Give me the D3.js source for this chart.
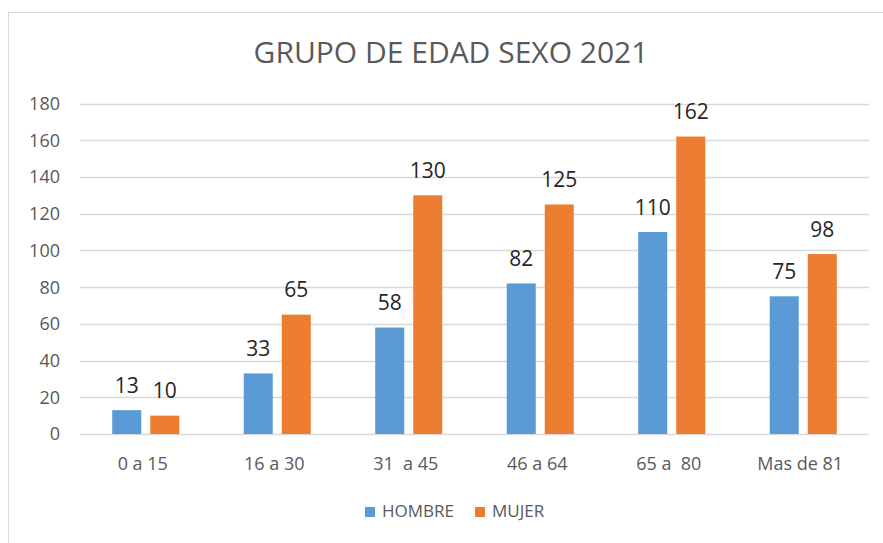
<!DOCTYPE html>
<html>
<head>
<meta charset="utf-8">
<script src="https://cdn.jsdelivr.net/npm/d3@7"></script>
<style>
  body { margin: 0; background: #fff; }
  text { font-family: "Open Sans", sans-serif; }
</style>
</head>
<body>
<script>
const categories = ['0 a 15', '16 a 30', '31  a 45', '46 a 64', '65 a  80', 'Mas de 81'];
const series = ['HOMBRE', 'MUJER'];
const hombre = [13, 33, 58, 82, 110, 75];
const mujer = [10, 65, 130, 125, 162, 98];
const yTicks = [0, 20, 40, 60, 80, 100, 120, 140, 160, 180];
const colors = ['#5B9BD5', '#ED7D31'];

const W = 883, H = 543;
const svg = d3.select('body').append('svg')
  .attr('width', W)
  .attr('height', H);

// chart frame (only top and left edges visible in the reference)
svg.append('line')
  .attr('x1', 8.5).attr('y1', 12).attr('x2', 8.5).attr('y2', H)
  .style('stroke', '#D9D9D9');
svg.append('line')
  .attr('x1', 8).attr('y1', 12.5).attr('x2', W).attr('y2', 12.5)
  .style('stroke', '#D9D9D9');

svg.append('text')
  .attr('x', 451)
  .attr('y', 63)
  .attr('text-anchor', 'middle')
  .attr('font-size', 30)
  .style('fill', '#595959')
  .text('GRUPO DE EDAD SEXO 2021');

const x0 = d3.scaleBand()
  .domain(categories)
  .range([80, 869])
  .paddingInner(0.49)
  .paddingOuter(0.245);

const x1 = d3.scaleBand()
  .domain(series)
  .range([0, x0.bandwidth()])
  .paddingInner(0.237);

const y = d3.scaleLinear()
  .domain([0, 180])
  .range([434, 103.5]);

// gridlines
svg.append('g')
  .selectAll('line')
  .data(yTicks)
  .join('line')
  .attr('x1', 80).attr('x2', 869)
  .attr('y1', d => Math.round(y(d)) + 0.5)
  .attr('y2', d => Math.round(y(d)) + 0.5)
  .style('stroke', '#D9D9D9')
  .style('stroke-width', 1.3);

// y tick labels
svg.append('g')
  .selectAll('text')
  .data(yTicks)
  .join('text')
  .attr('x', 60)
  .attr('y', d => y(d))
  .attr('dy', '0.36em')
  .attr('text-anchor', 'end')
  .attr('font-size', 18)
  .style('fill', '#595959')
  .text(d => d);

// x category labels
svg.append('g')
  .selectAll('text')
  .data(categories)
  .join('text')
  .attr('x', d => x0(d) + x0.bandwidth() / 2 - 3)
  .attr('y', 470)
  .attr('text-anchor', 'middle')
  .attr('font-size', 18)
  .style('fill', '#595959')
  .style('white-space', 'pre')
  .text(d => d);

const rows = categories.map((c, i) => ({ cat: c, vals: [hombre[i], mujer[i]] }));

const groups = svg.append('g')
  .selectAll('g')
  .data(rows)
  .join('g')
  .attr('transform', d => `translate(${x0(d.cat)},0)`);

groups.selectAll('rect')
  .data(d => d.vals.map((v, k) => ({ s: series[k], v, k })))
  .join('rect')
  .attr('x', d => x1(d.s))
  .attr('y', d => y(d.v))
  .attr('width', x1.bandwidth())
  .attr('height', d => y(0) - y(d.v))
  .style('fill', d => colors[d.k]);

groups.selectAll('text')
  .data(d => d.vals.map((v, k) => ({ s: series[k], v, k })))
  .join('text')
  .attr('x', d => x1(d.s) + x1.bandwidth() / 2)
  .attr('y', d => y(d.v) - 17.5)
  .attr('text-anchor', 'middle')
  .attr('font-size', 21)
  .style('fill', '#262626')
  .text(d => d.v);

// legend
const legendX = [365, 475];
const legend = svg.append('g')
  .selectAll('g')
  .data(series)
  .join('g')
  .attr('transform', (d, i) => `translate(${legendX[i]},507)`);

legend.append('rect')
  .attr('width', 10)
  .attr('height', 10)
  .style('fill', (d, i) => colors[i]);

legend.append('text')
  .attr('x', 17)
  .attr('y', 10)
  .attr('font-size', 17)
  .style('fill', '#595959')
  .text(d => d);
</script>
</body>
</html>
